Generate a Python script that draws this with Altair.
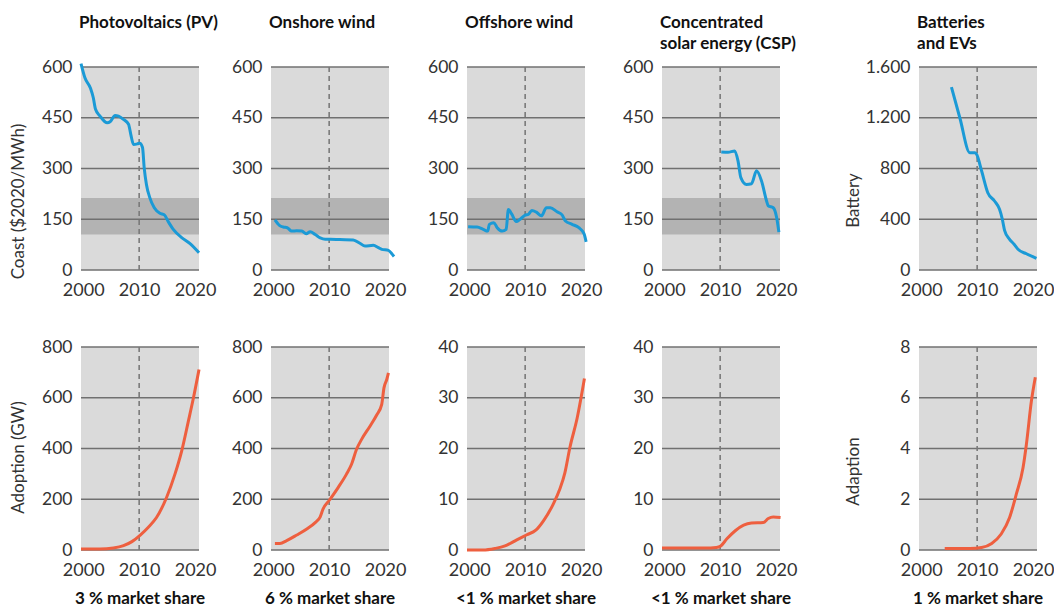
import altair as alt
import pandas as pd

# ---------------- data ----------------
pv_cost_year = [1999.6, 2000.3, 2001.3, 2001.8, 2002.2, 2003.0, 2004.3, 2004.8, 2005.7, 2006.3,
                2007.2, 2008.1, 2008.5, 2009.0, 2009.7, 2010.1, 2010.6, 2010.9, 2011.3, 2011.9,
                2012.7, 2013.7, 2014.5, 2015.2, 2016.1, 2017.6, 2019.1, 2020.7]
pv_cost_val = [610, 568, 537, 509, 475, 455, 435, 438, 457, 455,
               445, 431, 401, 371, 373, 375, 362, 302, 253, 214,
               184, 168, 163, 143, 120, 96, 78, 51]

on_cost_year = [2000.3, 2001.1, 2001.8, 2002.5, 2003.3, 2004.2, 2005.1, 2005.9, 2006.6, 2007.5,
                2008.4, 2009.3, 2010.2, 2011.9, 2014.3, 2015.5, 2016.4, 2017.9, 2018.8, 2019.4,
                2020.6, 2021.2, 2021.6]
on_cost_val = [148, 132, 127, 125, 115, 116, 115, 107, 113, 105,
               95, 91, 91, 90, 89, 79, 71, 73, 66, 61,
               58, 48, 40]

off_cost_year = [1999.8, 2001.4, 2002.5, 2003.3, 2003.6, 2004.4, 2005.0, 2005.9, 2006.6, 2007.0,
                 2007.6, 2008.4, 2009.1, 2010.0, 2010.6, 2011.2, 2012.0, 2012.9, 2013.8, 2014.5,
                 2015.7, 2016.6, 2017.2, 2018.4, 2019.6, 2020.5, 2020.9]
off_cost_val = [128, 127, 120, 115, 135, 140, 125, 115, 120, 179,
                165, 143, 150, 162, 165, 176, 171, 160, 184, 184,
                172, 163, 145, 135, 125, 108, 83]

csp_cost_year = [2010.2, 2011.4, 2012.6, 2013.2, 2013.7, 2014.7, 2015.6, 2016.5, 2017.4, 2018.3,
                 2018.6, 2019.5, 2020.1, 2020.5]
csp_cost_val = [349, 348, 352, 322, 273, 253, 255, 293, 263, 204,
                190, 184, 155, 112]

bat_cost_year = [2005.4, 2006.9, 2008.7, 2009.6, 2009.9, 2010.8, 2011.9, 2013.1, 2014.0, 2014.5,
                 2014.9, 2015.8, 2016.6, 2017.3, 2018.8, 2020.6]
bat_cost_val = [1442, 1200, 924, 924, 912, 780, 609, 544, 478, 400,
                313, 242, 203, 163, 128, 92]

pv_adop_year = [1999.6, 2003.0, 2005.4, 2007.2, 2008.7, 2010.2, 2011.6, 2013.1, 2014.9, 2016.4,
                2017.6, 2018.8, 2019.7, 2020.7]
pv_adop_val = [4, 4, 8, 17, 33, 59, 89, 128, 207, 299,
               390, 508, 599, 711]

on_adop_year = [2000.3, 2001.2, 2002.4, 2004.2, 2006.0, 2007.5, 2008.4, 2008.9, 2010.1, 2011.6,
                2013.1, 2014.0, 2014.9, 2015.8, 2017.3, 2018.5, 2019.4, 2019.8, 2020.3, 2020.6]
on_adop_val = [26, 26, 37, 59, 83, 108, 131, 161, 198, 246,
               299, 338, 397, 436, 488, 532, 574, 639, 672, 698]

off_adop_year = [1999.6, 2002.5, 2004.6, 2006.4, 2008.5, 2010.3, 2011.9, 2013.3, 2015.0, 2016.2,
                 2017.1, 2018.0, 2019.3, 2020.6]
off_adop_val = [0, 0, 0.3, 0.8, 2.0, 3.0, 3.9, 5.8, 9.0, 12.0,
                15.2, 20.2, 26.0, 33.8]

csp_adop_year = [1999.6, 2007.3, 2009.3, 2010.1, 2011.2, 2012.7, 2014.2, 2015.6, 2017.7, 2018.6,
                 2019.5, 2020.8]
csp_adop_val = [0.4, 0.4, 0.5, 0.8, 2.2, 3.8, 4.9, 5.3, 5.4, 6.2,
                6.5, 6.4]

bat_adop_year = [2004.2, 2008.7, 2010.8, 2012.6, 2014.3, 2015.8, 2017.0, 2018.2, 2018.8, 2019.7,
                 2020.4]
bat_adop_val = [0.06, 0.06, 0.1, 0.26, 0.63, 1.28, 2.2, 3.24, 4.16, 5.87,
                6.81]

# reference band (cost row) and marker year
band_low, band_high = [105], [213]
marker_year = [2010]

col_titles = [["Photovoltaics (PV)"], ["Onshore wind"], ["Offshore wind"],
              ["Concentrated", "solar energy (CSP)"], ["Batteries", "and EVs"]]
col_shares = ["3 % market share", "6 % market share", "<1 % market share",
              "<1 % market share", "1 % market share"]
x_ticks = [2000, 2010, 2020]
cost_ticks = [0, 150, 300, 450, 600]
gw_ticks = [0, 200, 400, 600, 800]
small_ticks = [0, 10, 20, 30, 40]
bat_ticks = [0, 400, 800, 1200, 1600]
ev_ticks = [0, 2, 4, 6, 8]

# ---------------- style ----------------
W, H = 118, 203
GAP = 72
BG = "#dadada"
BAND = "#b3b3b3"
GRID = "#707070"
BLUE = "#1b9ad6"
RED = "#ee5f3f"
FONT = "Lato"
TXT = "#333333"


def panel(years, vals, yticks, color, extra=0, band=False, title=None, share=None,
          ytitle=None, ytitle_x=-63, ytitle_y=110):
    df = pd.DataFrame({"year": years, "value": vals})
    ymax = yticks[-1]
    xenc = alt.X("year:Q",
                 scale=alt.Scale(domain=[1999.6, 2020.7], range=[0, W], nice=False, zero=False),
                 axis=alt.Axis(values=x_ticks, format="d", title=None, grid=False, ticks=False,
                               domain=False, labelFontSize=18, labelFont=FONT, labelColor=TXT,
                               labelPadding=11, labelFlush=False))
    yaxis = dict(values=yticks, grid=False, ticks=False,
                 domain=False, labelFontSize=17.5, labelFont=FONT, labelColor=TXT,
                 labelPadding=9,
                 labelExpr="replace(format(datum.value, ','), ',', '.')")
    if ytitle:
        yaxis.update(title=ytitle, titleFont=FONT, titleFontSize=17, titleFontWeight="normal",
                     titleColor=TXT, titleAngle=-90, titleX=ytitle_x, titleY=ytitle_y,
                     titleAlign="center", titleBaseline="middle")
    else:
        yaxis.update(title=None)
    yenc = alt.Y("value:Q", scale=alt.Scale(domain=[0, ymax], nice=False),
                 axis=alt.Axis(**yaxis))

    one = pd.DataFrame({"a": [0]})
    layers = [alt.Chart(one).mark_rect(color=BG).encode(
        x=alt.value(0), x2=alt.value(W), y=alt.value(0), y2=alt.value(H))]
    if band:
        bdf = pd.DataFrame({"value": band_low, "value2": band_high})
        layers.append(alt.Chart(bdf).mark_rect(color=BAND).encode(
            x=alt.value(0), x2=alt.value(W), y=yenc, y2="value2:Q"))
    gdf = pd.DataFrame({"value": yticks})
    layers.append(alt.Chart(gdf).mark_rule(color=GRID, strokeWidth=1.4).encode(
        x=alt.value(0), x2=alt.value(W), y=yenc))
    rdf = pd.DataFrame({"year": marker_year})
    layers.append(alt.Chart(rdf).mark_rule(color="#7a7a7a", strokeDash=[5, 4],
                                           strokeWidth=1.6).encode(x=xenc))
    layers.append(alt.Chart(df).mark_line(color=color, strokeWidth=3, interpolate="monotone",
                                          clip=False).encode(x=xenc, y=yenc))
    if title:
        layers.append(alt.Chart(one).mark_text(
            text=title, align="left", baseline="alphabetic", font=FONT, fontSize=17,
            fontWeight="bold", color="#111111", lineHeight=20.5).encode(
            x=alt.value(-2), y=alt.value(-39)))
    if share:
        layers.append(alt.Chart(one).mark_text(
            text=share, align="center", baseline="alphabetic", font=FONT, fontSize=17,
            fontWeight="bold", color="#111111").encode(
            x=alt.value(W / 2), y=alt.value(H + 54)))
    return alt.layer(*layers).properties(width=W + extra, height=H,
                                         view=alt.ViewBackground(stroke=None))


tops = [
    panel(pv_cost_year, pv_cost_val, cost_ticks, BLUE, 0, True, col_titles[0],
          ytitle="Coast ($2020/MWh)", ytitle_x=-63, ytitle_y=134),
    panel(on_cost_year, on_cost_val, cost_ticks, BLUE, 6, True, col_titles[1]),
    panel(off_cost_year, off_cost_val, cost_ticks, BLUE, 5, True, col_titles[2]),
    panel(csp_cost_year, csp_cost_val, cost_ticks, BLUE, 67, True, col_titles[3]),
    panel(bat_cost_year, bat_cost_val, bat_ticks, BLUE, 0, False, col_titles[4],
          ytitle="Battery", ytitle_x=-66, ytitle_y=133),
]
bottoms = [
    panel(pv_adop_year, pv_adop_val, gw_ticks, RED, 0, share=col_shares[0],
          ytitle="Adoption (GW)", ytitle_x=-63, ytitle_y=110),
    panel(on_adop_year, on_adop_val, gw_ticks, RED, 6, share=col_shares[1]),
    panel(off_adop_year, off_adop_val, small_ticks, RED, 5, share=col_shares[2]),
    panel(csp_adop_year, csp_adop_val, small_ticks, RED, 67, share=col_shares[3]),
    panel(bat_adop_year, bat_adop_val, ev_ticks, RED, 0, share=col_shares[4],
          ytitle="Adaption", ytitle_x=-66, ytitle_y=124),
]

chart = alt.concat(*(tops + bottoms), columns=5,
                   spacing={"row": 77, "column": GAP},
                   align="each", bounds="flush").properties(
    padding={"left": 8, "top": 14, "right": 0, "bottom": 0}
).configure_view(stroke=None)

chart.save("out.html", embed_options={"renderer": "svg", "actions": False})
